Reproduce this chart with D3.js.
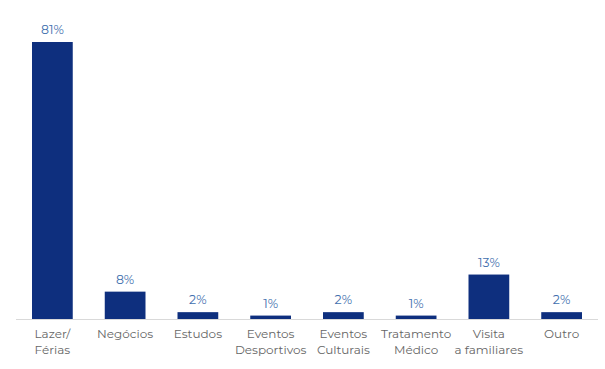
<!DOCTYPE html>
<html><head><meta charset="utf-8">
<script src="https://cdn.jsdelivr.net/npm/d3@7"></script>
<style>body{margin:0;background:#fff}svg{display:block}</style>
</head><body>
<script>
const categories = [["Lazer/","Férias"],["Negócios"],["Estudos"],["Eventos","Desportivos"],["Eventos","Culturais"],["Tratamento","Médico"],["Visita","a familiares"],["Outro"]];
const values = [81, 8, 2, 1, 2, 1, 13, 2];
const labels = ["81%","8%","2%","1%","2%","1%","13%","2%"];

const W = 605, H = 369;
const m = {left: 16, right: 7, top: 42, bottom: 50};
const svg = d3.select("body").append("svg").attr("width", W).attr("height", H);
const x = d3.scaleBand().domain(d3.range(categories.length)).range([m.left, W - m.right]).paddingInner(0.44).paddingOuter(0.22);
const y = d3.scaleLinear().domain([0, 81]).range([H - m.bottom, m.top]);
const font = "Montserrat, 'Open Sans', 'Noto Sans', sans-serif";

svg.append("line").attr("x1", 16).attr("x2", 598).attr("y1", y(0) + 0.5).attr("y2", y(0) + 0.5)
  .attr("stroke", "#d9d9d9").attr("stroke-width", 1);

svg.selectAll("rect.bar").data(values).join("rect").attr("class", "bar")
  .attr("x", (d, i) => x(i)).attr("width", x.bandwidth())
  .attr("y", d => y(d)).attr("height", d => y(0) - y(d))
  .attr("fill", "#0e2f7e");

svg.selectAll("text.val").data(values).join("text").attr("class", "val")
  .attr("x", (d, i) => x(i) + x.bandwidth() / 2).attr("y", d => y(d) - 8)
  .attr("text-anchor", "middle").attr("font-family", font).attr("font-size", 12.5)
  .attr("fill", "#3f6fae").text((d, i) => labels[i]);

const g = svg.selectAll("text.cat").data(categories).join("text").attr("class", "cat")
  .attr("x", (d, i) => x(i) + x.bandwidth() / 2).attr("y", y(0) + 19)
  .attr("text-anchor", "middle").attr("font-family", font).attr("font-size", 12)
  .attr("fill", "#666");
g.selectAll("tspan").data(d => d).join("tspan")
  .attr("x", function() { return this.parentNode.getAttribute("x"); })
  .attr("dy", (d, j) => j === 0 ? 0 : 16).text(d => d);
</script>
</body></html>
